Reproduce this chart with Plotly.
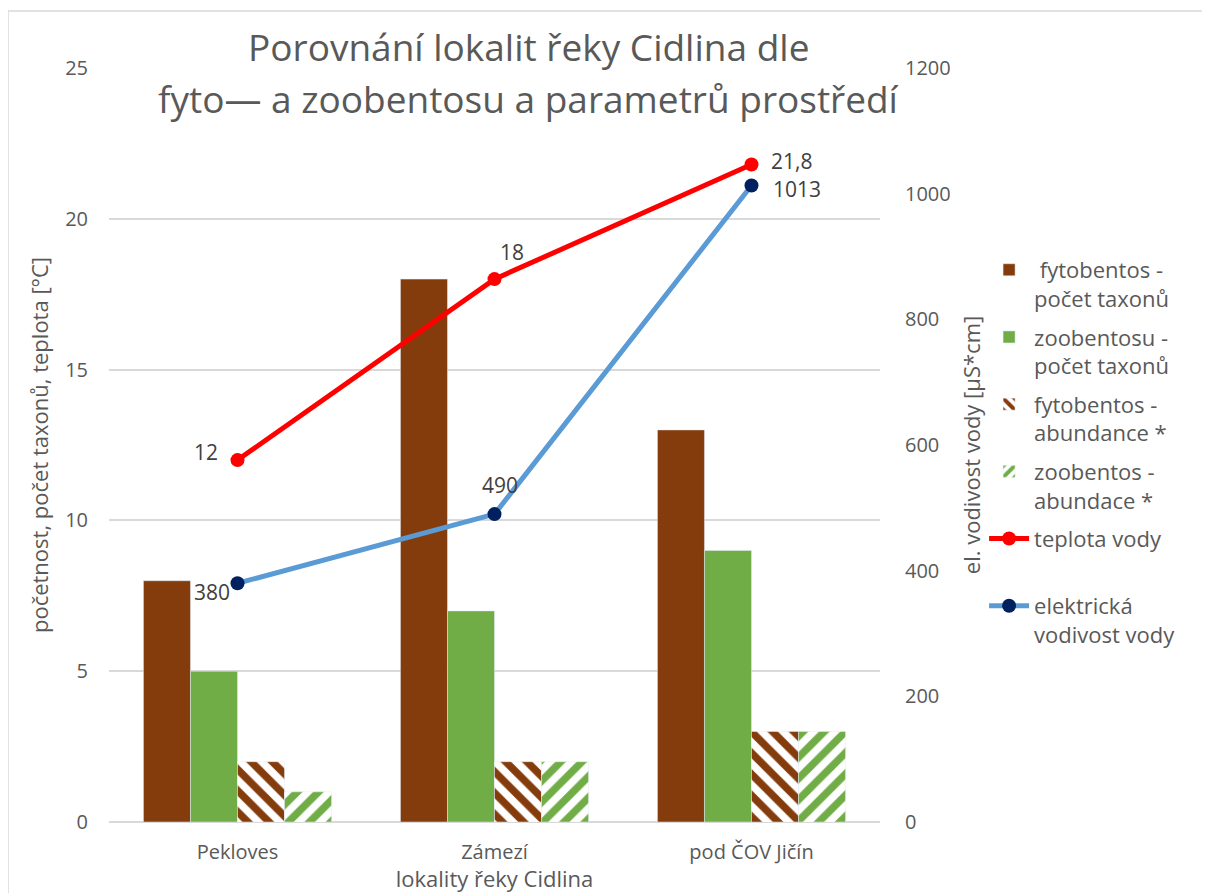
import plotly.graph_objects as go

categories = ["Pekloves", "Zámezí", "pod ČOV Jičín"]
fyto_taxa = [8, 18, 13]
zoo_taxa = [5, 7, 9]
fyto_abund = [2, 2, 3]
zoo_abund = [1, 2, 3]
teplota = [12, 18, 21.8]
vodivost = [380, 490, 1013]

names = [
    " fytobentos -<br>počet taxonů",
    "zoobentosu -<br>počet taxonů",
    "fytobentos -<br>abundance *",
    "zoobentos -<br>abundace *",
    "teplota vody<br> ",
    "elektrická<br>vodivost vody",
]
title_lines = ["Porovnání lokalit řeky Cidlina dle", "fyto— a zoobentosu a parametrů prostředí"]

BROWN = "#843C0C"
GREEN = "#70AD47"
GREY = "#595959"
FONT = "Open Sans"

fig = go.Figure()
fig.add_trace(go.Bar(x=categories, y=fyto_taxa, name=names[0], marker_color=BROWN, legendgroup="a"))
fig.add_trace(go.Bar(x=categories, y=zoo_taxa, name=names[1], marker_color=GREEN, legendgroup="b"))
fig.add_trace(go.Bar(x=categories, y=fyto_abund, name=names[2], legendgroup="c",
                     marker=dict(color="white", pattern=dict(shape="\\", fgcolor=BROWN, bgcolor="white",
                                                             fgopacity=1, size=15, solidity=0.5))))
fig.add_trace(go.Bar(x=categories, y=zoo_abund, name=names[3], legendgroup="d",
                     marker=dict(color="white", pattern=dict(shape="/", fgcolor=GREEN, bgcolor="white",
                                                             fgopacity=1, size=15, solidity=0.5))))
fig.add_trace(go.Scatter(x=categories, y=teplota, name=names[4], mode="lines+markers", legendgroup="e",
                         line=dict(color="#FF0000", width=5), marker=dict(color="#FF0000", size=14)))
fig.add_trace(go.Scatter(x=categories, y=vodivost, name=names[5], mode="lines+markers", yaxis="y2", legendgroup="f",
                         line=dict(color="#5B9BD5", width=5), marker=dict(color="#002060", size=14)))

def fmt(v):
    return (f"{v:g}").replace(".", ",")

LBL = dict(size=21, color="#404040", family=FONT)
t_shift = [(-32, 8), (17, 27), (40, 4)]
v_shift = [(-26, -9), (5, 29), (45, -3)]
annotations = []
for c, v, (dx, dy) in zip(categories, teplota, t_shift):
    annotations.append(dict(x=c, y=v, xref="x", yref="y", text=fmt(v), showarrow=False,
                            xshift=dx, yshift=dy, font=LBL))
for c, v, (dx, dy) in zip(categories, vodivost, v_shift):
    annotations.append(dict(x=c, y=v, xref="x", yref="y2", text=fmt(v), showarrow=False,
                            xshift=dx, yshift=dy, font=LBL))
for txt, yy in zip(title_lines, [1.029, 0.96]):
    annotations.append(dict(x=0.5435, y=yy, xref="paper", yref="paper", text=txt, showarrow=False,
                            xanchor="center", yanchor="middle", font=dict(size=37, color=GREY, family=FONT)))

fig.update_layout(
    width=1202, height=885,
    margin=dict(l=101, r=330, t=60, b=71),
    paper_bgcolor="white", plot_bgcolor="white",
    font=dict(family=FONT, color=GREY, size=20),
    barmode="group", bargap=0.268, bargroupgap=0,
    xaxis=dict(showgrid=False, showline=False, ticks="", tickfont=dict(size=20, color=GREY),
               ticklabelstandoff=16, automargin=False,
               title=dict(text="lokality řeky Cidlina", standoff=2, font=dict(size=22, color=GREY))),
    yaxis=dict(range=[0, 25], dtick=5, showgrid=True, gridcolor="#D9D9D9", gridwidth=2,
               zeroline=True, zerolinecolor="#D9D9D9", zerolinewidth=2, automargin=False,
               tickfont=dict(size=20, color=GREY), ticks="", ticklabelstandoff=20,
               title=dict(text="početnost, počet taxonů, teplota [°C]", standoff=10, font=dict(size=22, color=GREY))),
    yaxis2=dict(range=[0, 1200], dtick=200, overlaying="y", side="right", showgrid=False, zeroline=False,
                automargin=False, tickfont=dict(size=20, color=GREY), ticks="", ticklabelstandoff=24,
                title=dict(text="el. vodivost vody [µS*cm]", standoff=14, font=dict(size=22, color=GREY))),
    legend=dict(x=1.135, xanchor="left", y=0.76, yanchor="top", valign="top",
                font=dict(size=22, color=GREY, family=FONT), tracegroupgap=7, itemwidth=40),
    annotations=annotations,
    shapes=[dict(type="rect", xref="paper", yref="paper", x0=-0.131, x1=1.6, y0=-0.3, y1=1.0756,
                 line=dict(color="#D9D9D9", width=1.5), fillcolor="rgba(0,0,0,0)", layer="below")],
)

fig.write_html("out.html")
